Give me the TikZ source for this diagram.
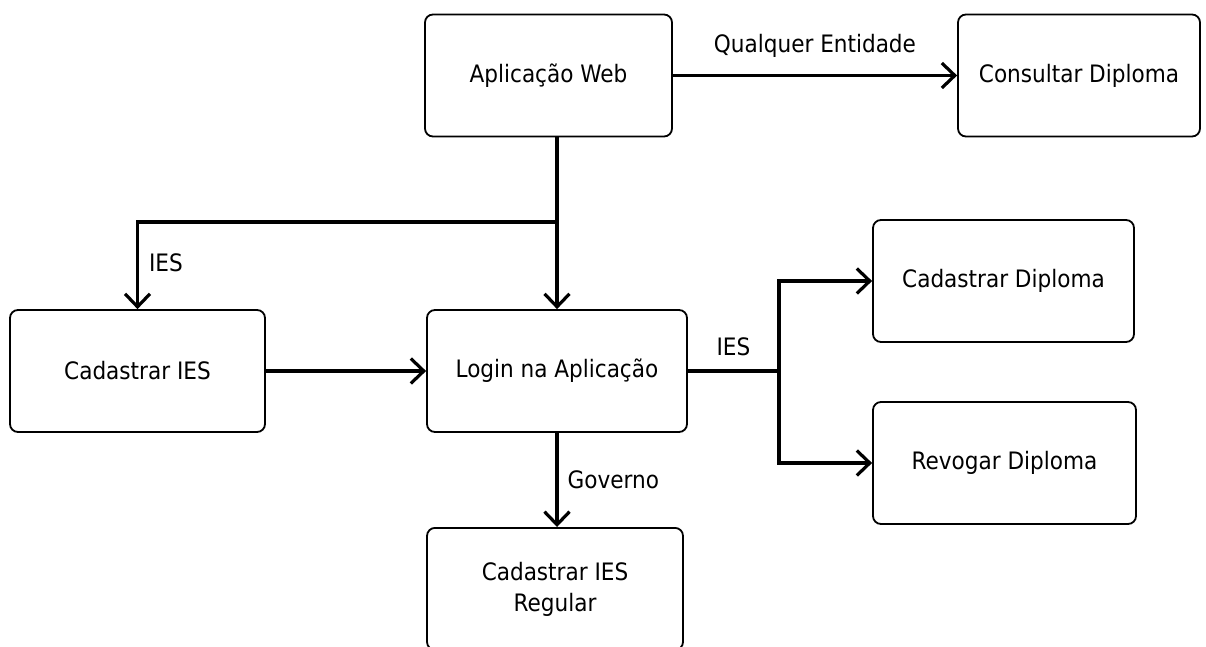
\documentclass[tikz,border=0pt]{standalone}
\usepackage{fontspec}
\setmainfont{DejaVu Sans Condensed}
\usetikzlibrary{arrows.meta}
\begin{document}
\begin{tikzpicture}[x=1pt,y=-1pt,
  box/.style={draw=black, line width=1.8pt, rounded corners=8pt, fill=white,
    minimum width=#1, minimum height=122pt, align=center, inner sep=0pt,
    font=\fontsize{24}{31}\selectfont},
  box/.default=250pt,
  link/.style={draw=black, line width=3.2pt,
    -{Straight Barb[length=13pt,width=25pt,line width=3.2pt]}},
  lbl/.style={font=\fontsize{24}{28}\selectfont, inner sep=0pt}]
\useasboundingbox (0,0) rectangle (1206,646);

\node[box=247pt] (web) at (548.5,75.5) {Aplicação Web};
\node[box=242pt] (cons) at (1079,75.5) {Consultar Diploma};
\node[box=255pt] (cies) at (137.5,371) {Cadastrar IES};
\node[box=260pt] (login) at (557,371) {Login na Aplicação};
\node[box=261pt] (cdip) at (1003.5,281) {Cadastrar Diploma};
\node[box=263pt] (rdip) at (1004.5,463) {Revogar Diploma};
\node[box=256pt, anchor=north] (reg) at (555,527) {Cadastrar IES\\Regular};

\coordinate (split) at (557,222);
\coordinate (fork) at (779,371);

\draw[link] (web) -- node[lbl, above=16pt] {Qualquer Entidade} (cons);
\draw[link] (split |- web.south) -- (login.north);
\draw[link] (split) -| node[lbl, pos=0.735, right=10pt] {IES} (cies.north);
\draw[link] (cies) -- (login);
\draw[link, -] (login.east) -- node[lbl, above=14pt] {IES} (fork);
\draw[link] (fork) |- (cdip.west);
\draw[link] (fork) |- (rdip.west);
\draw[link] (login.south) -- node[lbl, right=9pt, pos=0.5] {Governo} (login.south |- reg.north);
\end{tikzpicture}
\end{document}
